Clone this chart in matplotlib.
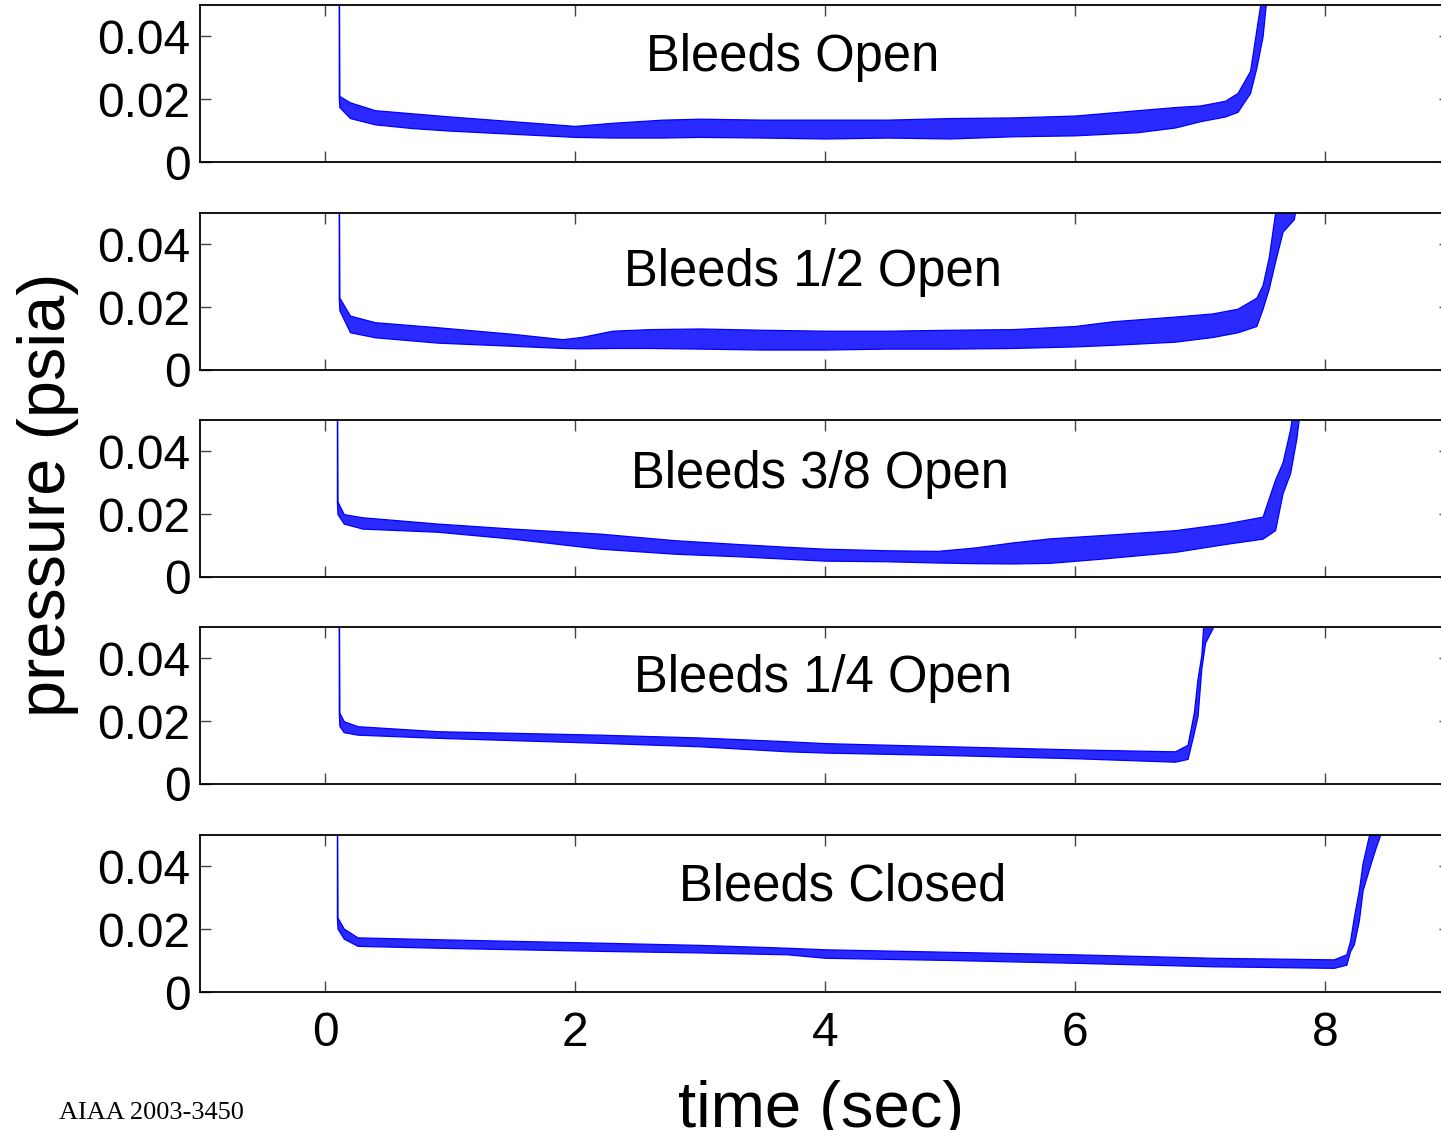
import numpy as np
import matplotlib
matplotlib.use("Agg")
import matplotlib.pyplot as plt

plt.rcParams['font.family'] = ['Liberation Sans', 'DejaVu Sans']

# envelope of the pressure trace (lower / upper edge of the noisy band)
t_open = [0.110, 0.115, 0.2, 0.4, 0.7, 1.0, 1.5, 2.0, 2.3, 2.7, 3.0, 3.5, 4.0, 4.5, 5.0, 5.5,
          6.0, 6.5, 6.8, 7.0, 7.2, 7.3, 7.4, 7.45, 7.5, 7.55, 9.0]
lo_open = [0.0205, 0.0175, 0.0140, 0.0120, 0.0108, 0.0100, 0.0090, 0.0080, 0.0078, 0.0078, 0.0080,
           0.0078, 0.0075, 0.0078, 0.0075, 0.0082, 0.0085, 0.0095, 0.0110, 0.0130, 0.0145, 0.0160,
           0.0220, 0.0300, 0.0400, 0.0600, 0.0600]
hi_open = [0.0700, 0.0210, 0.0190, 0.0165, 0.0155, 0.0145, 0.0130, 0.0115, 0.0125, 0.0135, 0.0138,
           0.0135, 0.0135, 0.0135, 0.0140, 0.0142, 0.0148, 0.0165, 0.0175, 0.0180, 0.0195, 0.0220,
           0.0290, 0.0420, 0.0550, 0.0700, 0.0700]

t_half = [0.110, 0.115, 0.2, 0.4, 0.9, 1.5, 1.9, 2.05, 2.3, 2.6, 3.0, 3.5, 4.0, 4.5, 5.0, 5.5, 6.0,
          6.3, 6.8, 7.1, 7.3, 7.45, 7.5, 7.55, 7.6, 7.66, 7.75, 7.8, 9.0]
lo_half = [0.0230, 0.0190, 0.0120, 0.0104, 0.0087, 0.0077, 0.0070, 0.0069, 0.0070, 0.0070, 0.0068,
           0.0065, 0.0065, 0.0068, 0.0068, 0.0070, 0.0075, 0.0080, 0.0090, 0.0105, 0.0120, 0.0140,
           0.0195, 0.0260, 0.0345, 0.0440, 0.0480, 0.0600, 0.0600]
hi_half = [0.0700, 0.0230, 0.0173, 0.0152, 0.0136, 0.0115, 0.0098, 0.0105, 0.0125, 0.0130, 0.0132,
           0.0128, 0.0125, 0.0125, 0.0128, 0.0130, 0.0140, 0.0155, 0.0170, 0.0180, 0.0195, 0.0230,
           0.0270, 0.0360, 0.0500, 0.0600, 0.0600, 0.0700, 0.0700]

t_38 = [0.095, 0.100, 0.15, 0.3, 0.9, 1.5, 2.2, 2.8, 3.3, 3.7, 4.0, 4.5, 4.9, 5.2, 5.5, 5.8,
        6.2, 6.8, 7.2, 7.5, 7.6, 7.66, 7.72, 7.77, 7.82, 9.0]
lo_38 = [0.0240, 0.0200, 0.0170, 0.0154, 0.0144, 0.0122, 0.0090, 0.0074, 0.0066, 0.0058, 0.0052,
         0.0050, 0.0046, 0.0044, 0.0043, 0.0045, 0.0058, 0.0080, 0.0105, 0.0122, 0.0149, 0.0267,
         0.0330, 0.0440, 0.0600, 0.0600]
hi_38 = [0.0700, 0.0240, 0.0200, 0.0190, 0.0170, 0.0154, 0.0138, 0.0117, 0.0105, 0.0096, 0.0090,
         0.0085, 0.0083, 0.0094, 0.0110, 0.0123, 0.0133, 0.0149, 0.0170, 0.0192, 0.0310, 0.0365,
         0.0470, 0.0600, 0.0700, 0.0700]

t_quarter = [0.110, 0.115, 0.15, 0.26, 0.9, 2.2, 3.0, 3.7, 4.0, 5.0, 6.0, 6.8, 6.9, 6.95, 6.98,
             7.01, 7.04, 7.10, 7.13, 9.0]
lo_quarter = [0.0227, 0.0185, 0.0165, 0.0157, 0.0147, 0.0131, 0.0120, 0.0104, 0.0100, 0.0092,
              0.0082, 0.0071, 0.0080, 0.0163, 0.0217, 0.0368, 0.0450, 0.0496, 0.0600, 0.0600]
hi_quarter = [0.0700, 0.0227, 0.0200, 0.0184, 0.0168, 0.0157, 0.0148, 0.0136, 0.0130, 0.0120,
              0.0110, 0.0104, 0.0125, 0.0227, 0.0336, 0.0410, 0.0600, 0.0600, 0.0700, 0.0700]

t_closed = [0.095, 0.100, 0.15, 0.26, 0.9, 2.2, 3.0, 3.7, 4.0, 5.0, 6.0, 7.1, 8.07, 8.17, 8.2,
            8.23, 8.27, 8.3, 8.35, 8.4, 8.44, 8.46, 9.0]
lo_closed = [0.0237, 0.0202, 0.0170, 0.0147, 0.0141, 0.0131, 0.0126, 0.0120, 0.0109, 0.0102,
             0.0093, 0.0082, 0.0077, 0.0087, 0.0130, 0.0152, 0.0227, 0.0324, 0.0390, 0.0454,
             0.0500, 0.0600, 0.0600]
hi_closed = [0.0700, 0.0237, 0.0202, 0.0174, 0.0168, 0.0157, 0.0150, 0.0141, 0.0136, 0.0128,
             0.0120, 0.0109, 0.0104, 0.0120, 0.0163, 0.0238, 0.0324, 0.0410, 0.0497, 0.0600,
             0.0600, 0.0700, 0.0700]

labels = ['Bleeds Open', 'Bleeds 1/2 Open', 'Bleeds 3/8 Open', 'Bleeds 1/4 Open', 'Bleeds Closed']
label_x = [3.74, 3.90, 3.96, 3.98, 4.14]
label_y = [0.0334, 0.0310, 0.0327, 0.0336, 0.0333]

series = [(t_open, lo_open, hi_open), (t_half, lo_half, hi_half), (t_38, lo_38, hi_38),
          (t_quarter, lo_quarter, hi_quarter), (t_closed, lo_closed, hi_closed)]

fig = plt.figure(figsize=(14.41, 11.30), dpi=100)
bottoms = [0.8566, 0.6726, 0.4894, 0.3062, 0.1221]
h = 0.139
for i, (t, lo, hi) in enumerate(series):
    ax = fig.add_axes([0.1388, bottoms[i], 0.8675, h])
    ax.fill_between(t, lo, hi, facecolor='#2a2aff', edgecolor='#0000ff', linewidth=0.9)
    ax.set_xlim(-1, 9)
    ax.set_ylim(0, 0.05)
    ax.set_yticks([0, 0.02, 0.04])
    ax.set_yticklabels(['0', '0.02', '0.04'])
    ax.set_xticks([0, 2, 4, 6, 8])
    ax.tick_params(direction='in', top=True, right=True, length=8, width=1,
                   color='#444444', labelsize=34.5, pad=7)
    if i < 4:
        ax.set_xticklabels([])
    else:
        ax.tick_params(axis='x', pad=14)
    for s in ax.spines.values():
        s.set_linewidth(1.3)
    ax.text(label_x[i], label_y[i], labels[i], fontsize=36.5, ha='center', va='center')

fig.text(0.033, 0.562, 'pressure (psia)', rotation=90, fontsize=48, ha='center', va='center')
fig.text(0.570, 0.003, 'time (sec)', fontsize=47, ha='center', va='baseline')
fig.text(0.041, 0.010, 'AIAA 2003-3450', fontsize=19, family='Liberation Serif',
         ha='left', va='baseline')

fig.savefig('out.png', dpi=100)
